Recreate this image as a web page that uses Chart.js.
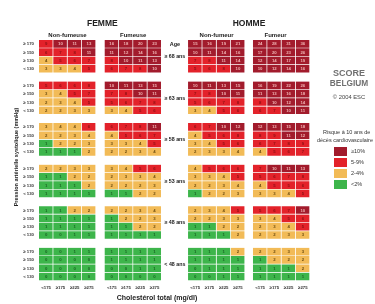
<!DOCTYPE html>
<html><head><meta charset="utf-8">
<script src="https://cdn.jsdelivr.net/npm/chart.js@4.4.1/dist/chart.umd.min.js"></script>
<style>html,body{margin:0;padding:0;background:#fff;}canvas{display:block}</style>
</head><body>
<canvas id="c" width="375" height="304"></canvas>
<script>
// ---- data ----
const cholLabels = ['<175', '≥175', '≥225', '≥275'];
const sbpLabels = ['≥ 170', '≥ 150', '≥ 130', '< 130'];
const ageLabels = ['≥ 68 ans', '≥ 63 ans', '≥ 58 ans', '≥ 53 ans', '≥ 48 ans', '< 48 ans'];
const riskClasses = ['≥10%', '5-9%', '2-4%', '<2%'];
const panelNames = ['Non-fumeuse', 'Fumeuse', 'Non-fumeur', 'Fumeur'];

const womenNonSmoker = [
  [9,10,11,13],[6,7,8,11],[4,5,6,7],[3,3,4,5],
  [5,6,6,8],[3,4,5,7],[2,3,4,5],[2,2,3,3],
  [3,4,4,6],[2,2,3,4],[1,2,2,3],[1,1,1,2],
  [2,2,3,3],[1,1,2,2],[1,1,1,2],[1,1,1,1],
  [1,1,2,2],[1,1,1,1],[1,1,1,1],[0,0,1,1],
  [0,0,1,1],[0,0,0,0],[0,0,0,0],[0,0,0,0]
];
const womenSmoker = [
  [16,18,20,23],[11,12,14,16],[8,10,11,13],[6,7,8,10],
  [10,11,13,15],[7,8,10,11],[5,6,7,8],[3,4,5,6],
  [6,7,8,11],[4,5,6,7],[3,3,4,5],[2,2,3,4],
  [3,4,5,6],[2,3,3,4],[2,2,2,3],[1,1,2,2],
  [2,2,3,4],[1,2,2,3],[1,1,2,2],[1,1,1,1],
  [1,1,1,1],[1,1,1,1],[0,0,1,1],[0,0,0,0]
];
const menNonSmoker = [
  [15,16,19,21],[10,11,14,16],[7,8,11,14],[5,6,8,10],
  [10,11,13,15],[7,8,10,11],[5,6,7,8],[3,4,5,6],
  [6,7,10,12],[4,5,6,8],[3,4,5,6],[2,3,3,4],
  [4,5,6,6],[3,3,4,5],[2,2,3,4],[1,2,2,3],
  [2,3,4,5],[2,2,3,3],[1,1,2,2],[1,1,1,2],
  [1,1,1,2],[1,1,1,1],[0,1,1,1],[0,0,1,1]
];
const menSmoker = [
  [24,28,31,36],[17,20,23,26],[12,14,17,19],[10,12,14,16],
  [16,19,22,26],[11,13,16,18],[8,10,12,14],[6,7,10,11],
  [12,13,15,18],[8,9,11,12],[6,7,8,9],[4,5,6,7],
  [7,10,11,13],[5,6,7,8],[4,5,5,6],[3,3,4,5],
  [5,6,7,10],[3,4,5,6],[2,3,4,5],[2,2,3,3],
  [2,2,3,3],[1,2,2,2],[1,1,1,2],[1,1,1,1]
];

// ---- styling / layout ----
const FONT = '"Liberation Sans", Arial, sans-serif';
const COLORS = ['#a21b2c', '#e3222a', '#f2bb57', '#3db54b'];
const TEXTCOL = ['#efb2b2', '#8e1014', '#6e4e12', '#1c6526'];
function riskIndex(v){ return v >= 10 ? 0 : v >= 5 ? 1 : v >= 2 ? 2 : 3; }
const panels = [womenNonSmoker, womenSmoker, menNonSmoker, menSmoker];
const panelOffset = [0, 4.6, 10.45, 15.0];

// y categories: 6 groups x 4 rows with a spacer between groups
const yLabels = [];
ageLabels.forEach((a, g) => {
  sbpLabels.forEach(s => yLabels.push(s));
  if (g < ageLabels.length - 1) yLabels.push('');
});
function rowOf(k){ const g = Math.floor(k / 5), r = k % 5; return r === 4 ? null : g * 4 + r; }

const datasets = [];
panels.forEach((pd, p) => {
  for (let c = 0; c < 4; c++) {
    const data = [], values = [], bg = [];
    yLabels.forEach((lab, k) => {
      const row = rowOf(k);
      if (row === null) { data.push(null); values.push(null); bg.push('transparent'); return; }
      const v = pd[row][c];
      data.push([panelOffset[p] + c, panelOffset[p] + c + 1]);
      values.push(v);
      bg.push(COLORS[riskIndex(v)]);
    });
    datasets.push({
      data, values, backgroundColor: bg,
      borderColor: 'rgba(255,255,255,0.3)',
      borderWidth: {top: 0, left: 0, right: 1, bottom: 1},
      borderSkipped: false,
      categoryPercentage: 1, barPercentage: 1, grouped: false
    });
  }
});

const tickCenters = [];
panelOffset.forEach(o => { for (let c = 0; c < 4; c++) tickCenters.push(o + c + 0.5); });

const decor = {
  id: 'decor',
  afterDatasetsDraw(chart) {
    const ctx = chart.ctx;
    ctx.save();
    ctx.textAlign = 'center'; ctx.textBaseline = 'middle';
    ctx.font = 'bold 4.3px ' + FONT;
    chart.data.datasets.forEach((ds, i) => {
      chart.getDatasetMeta(i).data.forEach((el, j) => {
        const v = ds.values[j];
        if (v === null) return;
        ctx.fillStyle = TEXTCOL[riskIndex(v)];
        ctx.fillText(String(v), (el.x + el.base) / 2, el.y);
      });
    });
    ctx.restore();
  },
  afterDraw(chart) {
    const ctx = chart.ctx, xs = chart.scales.x, ys = chart.scales.y;
    ctx.save();
    ctx.textAlign = 'center'; ctx.textBaseline = 'middle';
    ctx.fillStyle = '#222';
    ctx.font = 'bold 8.5px ' + FONT;
    ctx.fillText('FEMME', xs.getPixelForValue((panelOffset[0] + panelOffset[1] + 4) / 2) + 2, 24);
    ctx.fillText('HOMME', xs.getPixelForValue((panelOffset[2] + panelOffset[3] + 4) / 2), 24);
    ctx.font = 'bold 6px ' + FONT;
    panelNames.forEach((n, p) => {
      ctx.fillText(n, xs.getPixelForValue(panelOffset[p] + 2) - (p === 3 ? 6 : 0), 35);
    });
    const ageX = xs.getPixelForValue((panelOffset[1] + 4 + panelOffset[2]) / 2);
    ctx.font = 'bold 5.5px ' + FONT;
    ctx.fillText('Age', ageX, 44);
    ctx.font = 'bold 5.3px ' + FONT;
    ageLabels.forEach((a, g) => ctx.fillText(a, ageX, ys.getPixelForValue(g * 5 + 1.5)));
    // axis titles
    ctx.font = 'bold 7px ' + FONT;
    ctx.fillText('Cholestérol total (mg/dl)', 157, 298);
    ctx.save();
    ctx.translate(16, 157); ctx.rotate(-Math.PI / 2);
    ctx.font = 'bold 5.5px ' + FONT;
    ctx.fillText('Pression artérielle systolique (mmHg)', 0, 0);
    ctx.restore();
    // SCORE block
    ctx.fillStyle = '#707070';
    ctx.font = 'bold 9px ' + FONT;
    ctx.fillText('SCORE', 349, 74);
    ctx.font = 'bold 8.3px ' + FONT;
    ctx.fillText('BELGIUM', 349, 84);
    ctx.fillStyle = '#444';
    ctx.font = '5.8px ' + FONT;
    ctx.fillText('© 2004 ESC', 349, 97.5);
    // legend
    ctx.textAlign = 'left';
    ctx.fillStyle = '#333';
    ctx.font = '5.5px ' + FONT;
    ctx.fillText('Risque à 10 ans de', 323, 132.5);
    ctx.fillText('décès cardiovasculaire', 317, 140);
    riskClasses.forEach((rc, i) => {
      const y = 147 + i * 11;
      ctx.fillStyle = COLORS[i];
      ctx.fillRect(334, y, 13, 9);
      ctx.fillStyle = '#333';
      ctx.fillText(rc, 351, y + 4.5);
    });
    ctx.restore();
  }
};

new Chart(document.getElementById('c'), {
  type: 'bar',
  data: { labels: yLabels, datasets },
  options: {
    indexAxis: 'y',
    responsive: false,
    animation: false,
    devicePixelRatio: 1,
    layout: { padding: { top: 40, right: 65, bottom: 0, left: 0 } },
    plugins: { legend: { display: false }, tooltip: { enabled: false } },
    scales: {
      x: {
        type: 'linear', min: 0, max: 19,
        grid: { display: false, drawTicks: false }, border: { display: false },
        afterBuildTicks(s) { s.ticks = tickCenters.map(v => ({ value: v })); },
        afterFit(s) { s.height = 23; },
        ticks: {
          autoSkip: false, maxRotation: 0, padding: 4,
          color: '#333', font: { family: FONT, size: 4.3, weight: 'bold' },
          callback: (v, i) => cholLabels[i % 4]
        }
      },
      y: {
        type: 'category',
        grid: { display: false, drawTicks: false }, border: { display: false },
        afterFit(s) { s.width = 39; },
        ticks: {
          autoSkip: false, padding: 5,
          color: '#333', font: { family: FONT, size: 4.3, weight: 'bold' }
        }
      }
    }
  },
  plugins: [decor]
});
</script>
</body></html>
